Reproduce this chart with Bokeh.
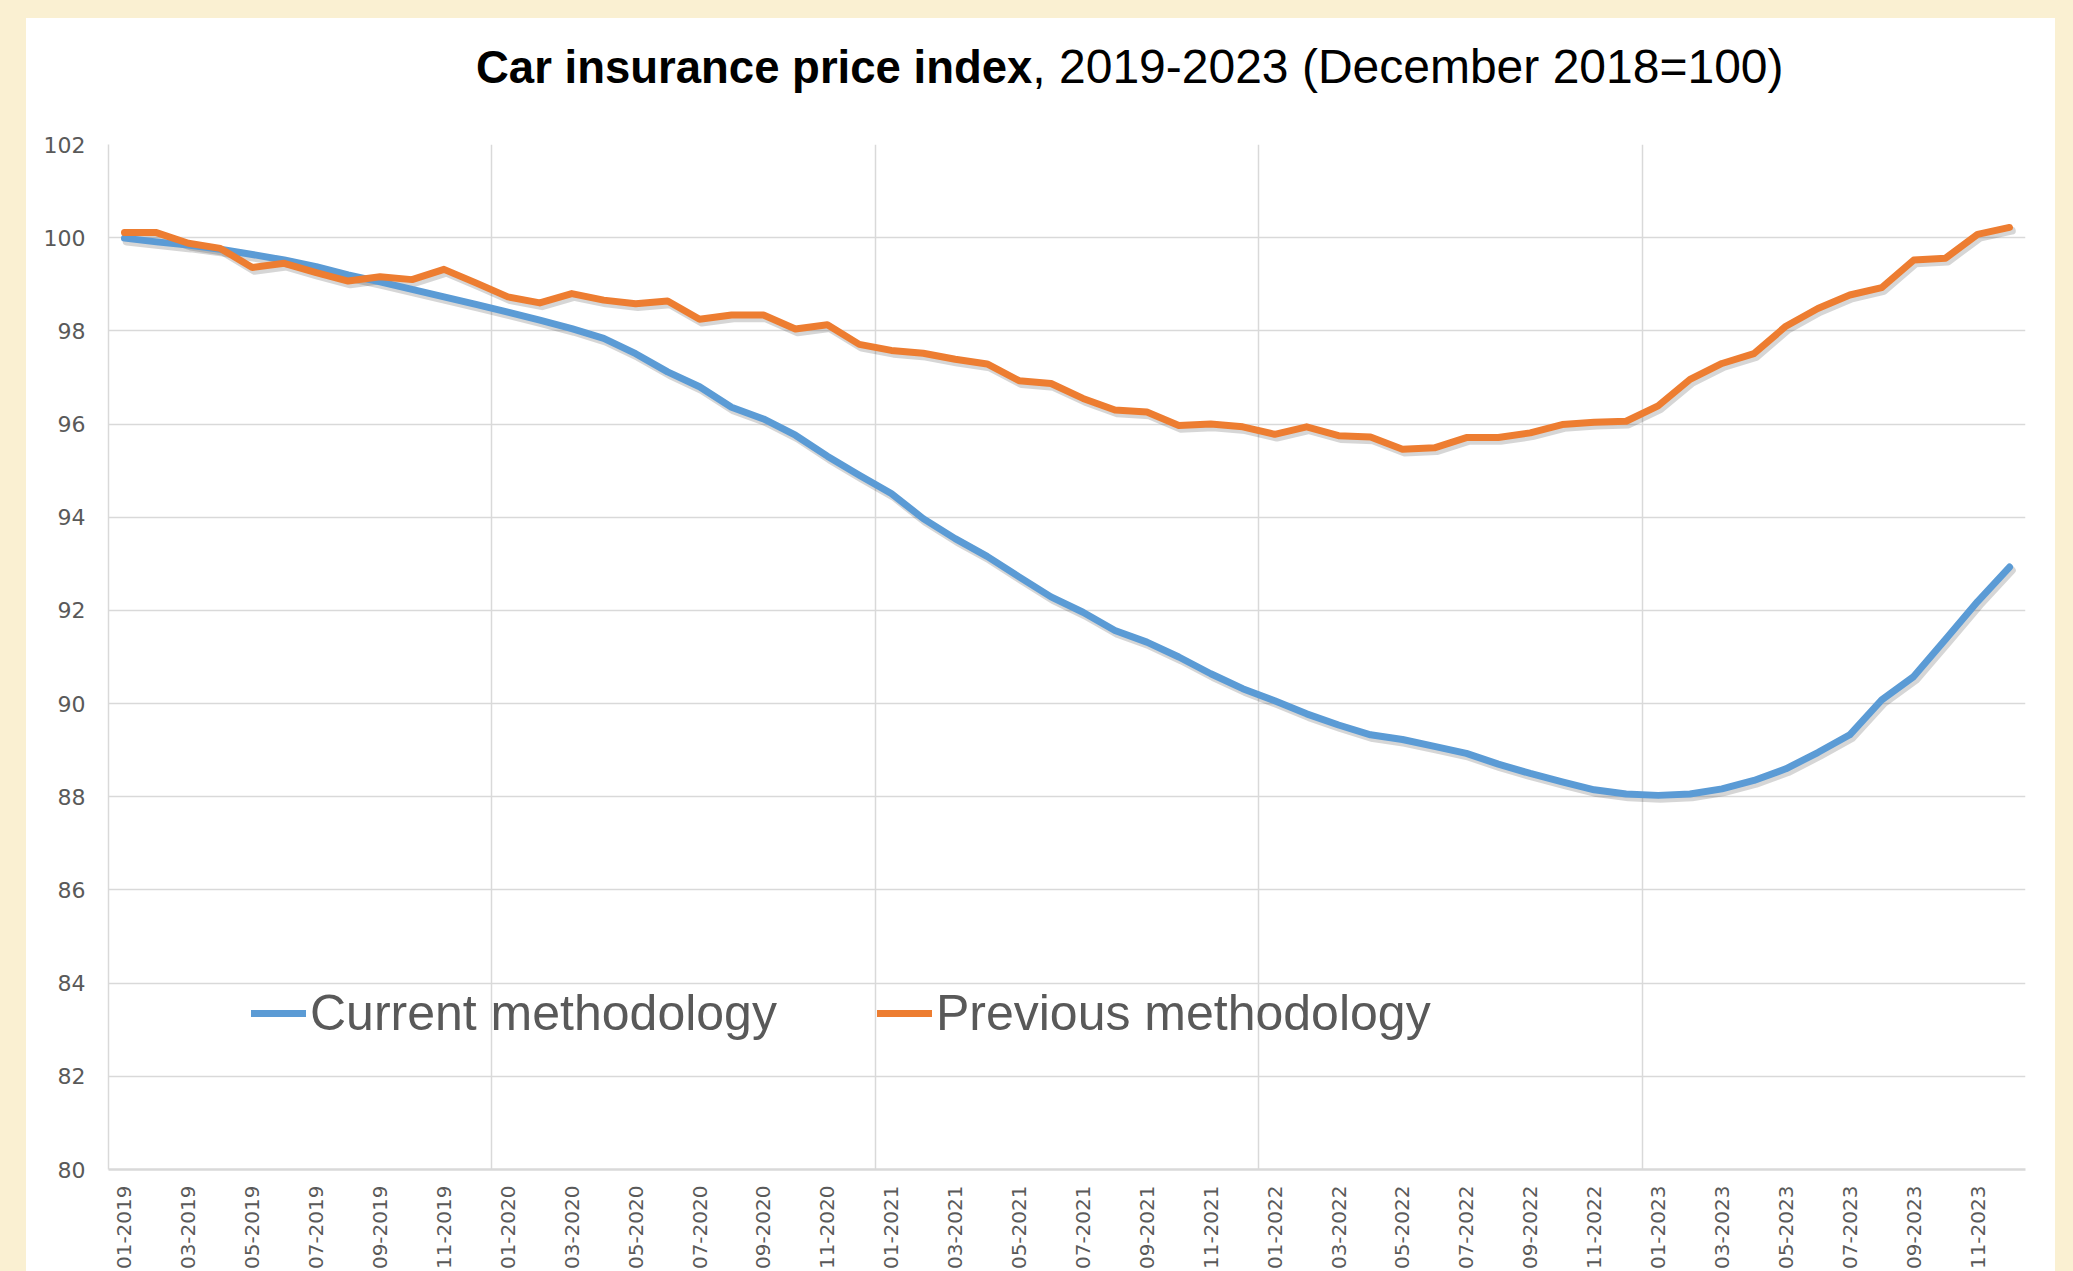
import math
from bokeh.plotting import figure
from bokeh.models import (Range1d, FixedTicker, Legend, LegendItem,
                          ColumnDataSource, Spacer, Div)
from bokeh.layouts import column, row
from bokeh.transform import dodge
from bokeh.embed import file_html
from bokeh.resources import INLINE

# ---------------- data ----------------
years = [2019, 2020, 2021, 2022, 2023]
months = [f"{m:02d}-{y}" for y in years for m in range(1, 13)]

current_methodology = [
    99.99, 99.91, 99.84, 99.75, 99.64, 99.52, 99.38, 99.20, 99.05, 98.89, 98.73, 98.57,
    98.40, 98.23, 98.05, 97.84, 97.51, 97.12, 96.80, 96.36, 96.11, 95.76, 95.31, 94.90,
    94.51, 93.97, 93.54, 93.16, 92.72, 92.29, 91.96, 91.57, 91.32, 91.00, 90.64, 90.32,
    90.06, 89.78, 89.54, 89.33, 89.23, 89.08, 88.93, 88.70, 88.50, 88.32, 88.15, 88.06,
    88.03, 88.06, 88.17, 88.35, 88.60, 88.95, 89.33, 90.08, 90.58, 91.38, 92.19, 92.93,
]
previous_methodology = [
    100.11, 100.11, 99.88, 99.77, 99.36, 99.45, 99.25, 99.07, 99.16, 99.10, 99.32, 99.03,
    98.73, 98.60, 98.80, 98.66, 98.58, 98.64, 98.25, 98.34, 98.34, 98.04, 98.13, 97.71,
    97.58, 97.52, 97.39, 97.29, 96.93, 96.87, 96.55, 96.30, 96.26, 95.97, 96.00, 95.94,
    95.78, 95.94, 95.75, 95.72, 95.46, 95.49, 95.71, 95.71, 95.81, 95.99, 96.04, 96.06,
    96.39, 96.96, 97.30, 97.51, 98.10, 98.48, 98.77, 98.93, 99.52, 99.56, 100.07, 100.22,
]
y_ticks = list(range(80, 103, 2))
title_bold = "Car insurance price index"
title_rest = ", 2019-2023 (December 2018=100)"
series_names = ["Current methodology", "Previous methodology"]

# ---------------- styles ----------------
BLUE = "#5B9BD5"
ORANGE = "#ED7D31"
GRID = "#D9D9D9"
TEXT = "#595959"
CREAM = "#FAF0D2"

PANEL_W = 2029
TITLE_H = 90

idx = list(range(len(months)))
src = ColumnDataSource(dict(x=idx, cur=current_methodology, prev=previous_methodology))

p = figure(frame_width=1917, frame_height=1025,
           x_range=Range1d(-0.5, len(months) - 0.5), y_range=Range1d(80, 102),
           output_backend="svg", toolbar_location=None,
           min_border_left=82, min_border_right=30,
           min_border_top=126 - TITLE_H, min_border_bottom=102,
           background_fill_color="white", border_fill_color="white",
           outline_line_color=None, margin=0)

# axes
p.xaxis.ticker = FixedTicker(ticks=list(range(0, len(months), 2)))
p.xaxis.major_label_overrides = {i: months[i] for i in range(0, len(months), 2)}
p.xaxis.major_label_orientation = math.pi / 2
p.xaxis.major_label_text_font = "DejaVu Sans"
p.xaxis.major_label_text_font_size = "20px"
p.xaxis.major_label_text_color = TEXT
p.xaxis.major_label_standoff = 16
p.xaxis.axis_line_color = GRID
p.xaxis.axis_line_width = 2.5

p.yaxis.ticker = FixedTicker(ticks=y_ticks)
p.yaxis.major_label_text_font = "DejaVu Sans"
p.yaxis.major_label_text_font_size = "22px"
p.yaxis.major_label_text_color = TEXT
p.yaxis.major_label_standoff = 23
p.yaxis.axis_line_color = GRID
p.yaxis.axis_line_width = 1.5

for ax in (p.xaxis, p.yaxis):
    ax.major_tick_line_color = None
    ax.minor_tick_line_color = None
    ax.major_tick_out = 0
    ax.major_tick_in = 0

# grids: horizontal at value ticks, vertical at year boundaries
p.ygrid.ticker = FixedTicker(ticks=y_ticks)
p.xgrid.ticker = FixedTicker(ticks=[11.5, 23.5, 35.5, 47.5, 59.5])
for g in (p.xgrid, p.ygrid):
    g.grid_line_color = GRID
    g.grid_line_width = 1.5

# shadows
for col in ("cur", "prev"):
    p.line(x=dodge("x", 0.07), y=dodge(col, -0.07), source=src, line_color="black",
           line_alpha=0.16, line_width=8, line_join="round", line_cap="round")

r_cur = p.line("x", "cur", source=src, line_color=BLUE, line_width=7,
               line_join="round", line_cap="round")
r_prev = p.line("x", "prev", source=src, line_color=ORANGE, line_width=7,
                line_join="round", line_cap="round")

legend = Legend(items=[LegendItem(label=series_names[0], renderers=[r_cur]),
                       LegendItem(label=series_names[1], renderers=[r_prev])],
                orientation="horizontal", location=(143, 127),
                label_text_font="Liberation Sans", label_text_font_size="50px",
                label_text_color=TEXT, glyph_width=55, glyph_height=50,
                label_standoff=4, spacing=100, padding=0, margin=0,
                border_line_color=None, background_fill_alpha=0)
p.add_layout(legend, "center")

# title: bold part + regular part, as real text
title_html = (
    '<div style="padding:26px 0 0 450px; font-family:\'Liberation Sans\'; '
    'line-height:46px; color:black; white-space:nowrap;">'
    '<b style="font-size:45.5px;">%s</b><span style="font-size:48px;">%s</span></div>'
    % (title_bold, title_rest)
)
title_div = Div(text=title_html, width=PANEL_W, height=TITLE_H, margin=0,
                styles={"background-color": "white"})

panel = column(title_div, p, margin=0, styles={"background-color": "white"})
layout = column(Spacer(height=18, margin=0),
                row(Spacer(width=26, margin=0), panel, margin=0),
                margin=0)

html = file_html(layout, INLINE, title="Car insurance price index")
html = html.replace("</head>", "<style>html,body{background:%s;}</style></head>" % CREAM, 1)
open("out.html", "w").write(html)
